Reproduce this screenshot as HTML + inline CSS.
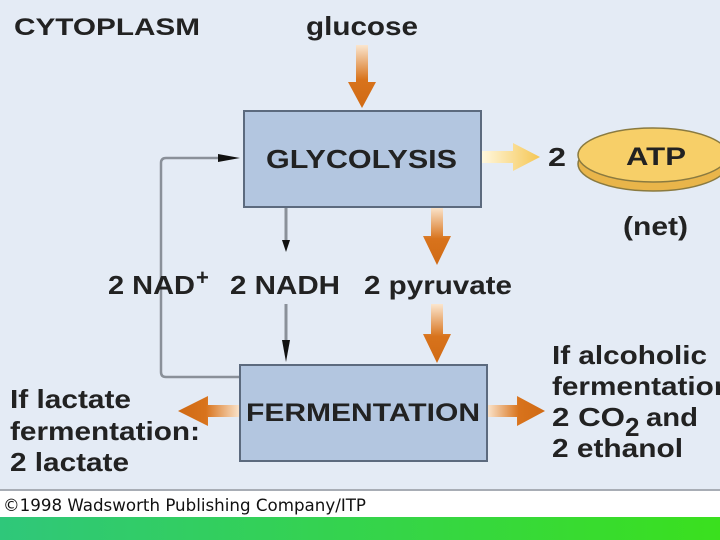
<!DOCTYPE html>
<html><head><style>
body{margin:0;width:720px;height:540px;overflow:hidden;background:#e4ebf5;font-family:"Liberation Sans",Arial,sans-serif;}
</style></head><body>
<svg width="720" height="540" xmlns="http://www.w3.org/2000/svg" style="position:absolute;left:0;top:0">
<defs>
<linearGradient id="ov" x1="0" y1="0" x2="0" y2="1"><stop offset="0" stop-color="#fbe6cf"/><stop offset="0.55" stop-color="#d8731c"/><stop offset="1" stop-color="#d06a14"/></linearGradient>
<linearGradient id="ol" x1="1" y1="0" x2="0" y2="0"><stop offset="0" stop-color="#fbe6cf"/><stop offset="0.55" stop-color="#d8731c"/><stop offset="1" stop-color="#d06a14"/></linearGradient>
<linearGradient id="or" x1="0" y1="0" x2="1" y2="0"><stop offset="0" stop-color="#fbe6cf"/><stop offset="0.55" stop-color="#d8731c"/><stop offset="1" stop-color="#d06a14"/></linearGradient>
<linearGradient id="yr" x1="0" y1="0" x2="1" y2="0"><stop offset="0" stop-color="#fff8e0"/><stop offset="1" stop-color="#f5c653"/></linearGradient>
<linearGradient id="gr" x1="0" y1="0" x2="1" y2="0"><stop offset="0" stop-color="#2fc77a"/><stop offset="1" stop-color="#3ae01e"/></linearGradient>
</defs>
<rect x="0" y="490" width="720" height="27" fill="#fff"/>
<rect x="0" y="489" width="720" height="2" fill="#a8adb5"/>
<rect x="0" y="517" width="720" height="23" fill="url(#gr)"/>
<text x="3" y="511" font-family="DejaVu Sans Condensed,DejaVu Sans,sans-serif" font-size="17" fill="#111" textLength="363" lengthAdjust="spacingAndGlyphs">©1998 Wadsworth Publishing Company/ITP</text>

<g font-weight="bold" fill="#222">
<text x="14" y="35" font-size="24" textLength="186" lengthAdjust="spacingAndGlyphs">CYTOPLASM</text>
<text x="306" y="35" font-size="26" textLength="112" lengthAdjust="spacingAndGlyphs">glucose</text>
</g>

<polygon points="356,45 368,45 368,82 376,82 362,108 348,82 356,82" fill="url(#ov)"/>
<polygon points="431,207 443,207 443,236 451,236 437,265 423,236 431,236" fill="url(#ov)"/>
<polygon points="431,304 443,304 443,334 451,334 437,363 423,334 431,334" fill="url(#ov)"/>
<polygon points="240,405 240,417 208,417 208,426 178,411 208,396 208,405" fill="url(#ol)"/>
<polygon points="487,405 487,417 517,417 517,426 545,411 517,396 517,405" fill="url(#or)"/>
<polygon points="481,151 481,163 513,163 513,171 540,157 513,143 513,151" fill="url(#yr)"/>

<path d="M240,377 H166 Q161,377 161,372 V163 Q161,158 166,158 H222" fill="none" stroke="#8a9099" stroke-width="2.5"/>
<polygon points="218,154 240,158 218,162" fill="#111"/>
<line x1="286" y1="207" x2="286" y2="242" stroke="#8a9099" stroke-width="3"/>
<polygon points="282,240 290,240 286,252" fill="#111"/>
<line x1="286" y1="304" x2="286" y2="342" stroke="#8a9099" stroke-width="3"/>
<polygon points="282,340 290,340 286,362" fill="#111"/>

<rect x="244" y="111" width="237" height="96" fill="#b3c6e0" stroke="#5c6a7e" stroke-width="2"/>
<text x="266" y="168" font-size="26" font-weight="bold" fill="#222" textLength="191" lengthAdjust="spacingAndGlyphs">GLYCOLYSIS</text>
<rect x="240" y="365" width="247" height="96" fill="#b3c6e0" stroke="#5c6a7e" stroke-width="2"/>
<text x="246" y="421" font-size="25" font-weight="bold" fill="#222" textLength="234" lengthAdjust="spacingAndGlyphs">FERMENTATION</text>

<g font-weight="bold" fill="#222">
<text x="108" y="294" font-size="26" textLength="87" lengthAdjust="spacingAndGlyphs">2 NAD</text>
<text x="196" y="285" font-size="22">+</text>
<text x="230" y="294" font-size="26" textLength="110" lengthAdjust="spacingAndGlyphs">2 NADH</text>
<text x="364" y="294" font-size="26" textLength="148" lengthAdjust="spacingAndGlyphs">2 pyruvate</text>
<text x="548" y="166" font-size="26" textLength="18" lengthAdjust="spacingAndGlyphs">2</text>
</g>
<ellipse cx="653" cy="164" rx="75" ry="27" fill="#e9b54a" stroke="#8a7a40" stroke-width="1.5"/>
<ellipse cx="653" cy="155" rx="75" ry="27" fill="#f7cf68" stroke="#8a7a40" stroke-width="1.5"/>
<g font-weight="bold" fill="#222">
<text x="626" y="165" font-size="25" textLength="60" lengthAdjust="spacingAndGlyphs">ATP</text>
<text x="623" y="235" font-size="26" textLength="65" lengthAdjust="spacingAndGlyphs">(net)</text>
</g>

<g font-size="26" font-weight="bold" fill="#222">
<text x="10" y="408" textLength="121" lengthAdjust="spacingAndGlyphs">If lactate</text>
<text x="10" y="440" textLength="190" lengthAdjust="spacingAndGlyphs">fermentation:</text>
<text x="10" y="471" textLength="119" lengthAdjust="spacingAndGlyphs">2 lactate</text>
<text x="552" y="364" textLength="155" lengthAdjust="spacingAndGlyphs">If alcoholic</text>
<text x="552" y="395" textLength="180" lengthAdjust="spacingAndGlyphs">fermentation</text>
<text x="552" y="426" textLength="73" lengthAdjust="spacingAndGlyphs">2 CO</text>
<text x="625" y="436">2</text>
<text x="646" y="426" textLength="52" lengthAdjust="spacingAndGlyphs">and</text>
<text x="552" y="457" textLength="131" lengthAdjust="spacingAndGlyphs">2 ethanol</text>
</g>
</svg>
</body></html>
